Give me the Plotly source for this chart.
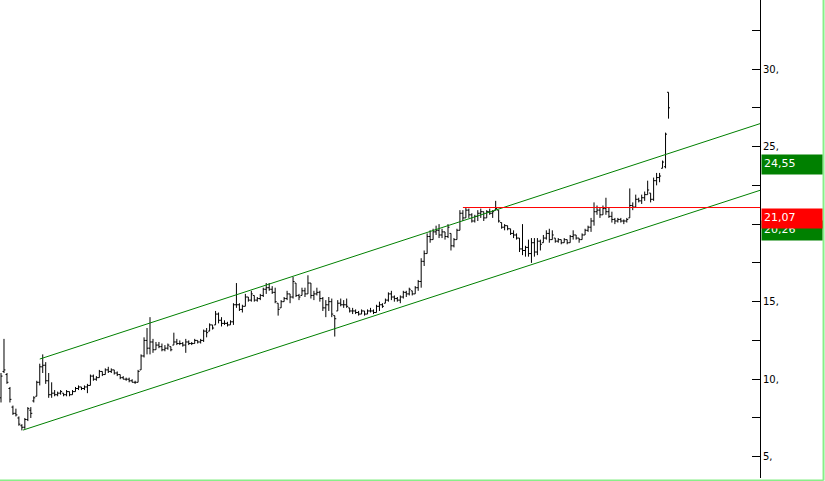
import plotly.graph_objects as go

# weekly bars (price units)
HIGH = [10.4, 12.6, 10.4, 9.5, 8.3, 8.1, 7.6, 7.1, 7.5, 8.2, 8.2, 8.9, 9.9, 11.0, 11.6, 11.1, 10.4, 9.8, 9.3, 9.2,
        9.3, 9.1, 9.3, 9.2, 9.3, 9.5, 9.6, 9.5, 9.6, 9.7, 10.3, 10.3, 10.2, 10.6, 10.5, 10.7, 10.8, 10.7, 10.6, 10.5,
        10.3, 10.2, 10.1, 10.1, 10.0, 9.9, 10.6, 11.6, 12.7, 13.3, 14.0, 12.6, 12.4, 12.4, 12.3, 12.2, 12.3, 12.1, 13.0, 12.6,
        12.5, 12.4, 12.6, 12.5, 12.4, 12.6, 12.5, 12.6, 13.2, 13.3, 13.6, 13.5, 14.4, 14.3, 14.0, 13.8, 13.7, 13.8, 14.9, 16.2,
        14.9, 14.8, 15.5, 15.3, 15.7, 15.4, 15.3, 15.5, 15.9, 16.2, 16.2, 16.0, 15.9, 14.9, 15.1, 15.3, 15.7, 15.5, 16.6, 16.2,
        15.5, 15.9, 15.9, 16.7, 16.2, 15.7, 15.9, 15.7, 15.3, 15.1, 15.3, 15.2, 14.1, 15.1, 15.2, 15.1, 15.2, 14.6, 14.6, 14.5,
        14.4, 14.5, 14.4, 14.5, 14.6, 14.5, 14.8, 15.0, 14.9, 15.2, 15.6, 15.7, 15.4, 15.3, 15.4, 15.7, 15.7, 15.9, 15.7, 16.0,
        16.4, 17.8, 18.3, 19.4, 19.6, 19.7, 19.9, 20.0, 19.7, 19.5, 20.0, 19.4, 19.1, 19.7, 20.9, 20.9, 21.1, 21.0, 20.7, 20.6,
        20.9, 21.0, 20.8, 20.9, 21.0, 20.9, 21.5, 20.9, 20.1, 20.0, 19.9, 19.7, 19.6, 19.4, 19.1, 20.0, 18.6, 19.0, 19.1, 19.1,
        19.1, 19.0, 19.3, 19.6, 19.7, 19.6, 19.1, 19.1, 19.0, 19.1, 19.0, 19.3, 19.6, 19.3, 19.1, 19.4, 19.7, 19.9, 20.4, 21.4,
        21.2, 21.1, 21.2, 21.7, 21.1, 20.8, 20.4, 20.4, 20.4, 20.3, 20.4, 22.3, 21.4, 21.9, 21.7, 21.9, 22.1, 22.8, 22.0, 23.0,
        23.3, 23.3, 24.1, 25.9, 28.5]
LOW = [8.5, 10.4, 9.7, 8.5, 7.7, 7.6, 7.0, 6.7, 6.8, 7.3, 7.5, 8.5, 8.9, 9.6, 10.4, 9.7, 8.8, 8.8, 8.9, 8.9,
       9.0, 8.9, 8.9, 8.9, 9.0, 9.2, 9.3, 9.3, 9.3, 9.1, 9.6, 9.9, 9.9, 10.1, 10.2, 10.3, 10.4, 10.4, 10.3, 10.2,
       10.0, 10.0, 9.9, 9.8, 9.8, 9.7, 9.8, 10.6, 11.4, 11.6, 11.6, 11.7, 11.9, 12.0, 11.8, 11.8, 11.9, 11.8, 12.2, 12.2,
       12.2, 12.1, 11.7, 12.2, 12.2, 12.3, 12.3, 12.3, 12.4, 12.7, 13.1, 13.2, 13.5, 13.6, 13.4, 13.5, 13.4, 13.5, 13.5, 14.6,
       14.4, 14.3, 14.7, 15.0, 15.0, 15.0, 15.0, 15.1, 15.3, 15.5, 15.7, 15.5, 14.9, 14.1, 14.6, 15.0, 15.1, 14.9, 15.2, 15.3,
       15.1, 15.4, 15.3, 15.5, 15.2, 15.1, 15.4, 15.0, 14.4, 14.0, 14.4, 14.0, 12.75, 14.4, 14.7, 14.6, 14.6, 14.3, 14.2, 14.2,
       14.1, 14.2, 14.1, 14.2, 14.3, 14.2, 14.3, 14.4, 14.6, 14.9, 15.0, 15.1, 15.0, 15.0, 14.9, 15.2, 15.3, 15.4, 15.4, 15.5,
       15.7, 15.9, 17.3, 18.1, 18.8, 19.0, 19.3, 19.1, 19.1, 19.0, 19.1, 18.3, 18.5, 19.0, 19.6, 20.2, 20.4, 20.4, 20.1, 20.1,
       20.2, 20.4, 20.2, 20.4, 20.6, 20.4, 20.9, 20.1, 19.7, 19.6, 19.6, 19.3, 19.1, 19.0, 18.2, 18.0, 17.9, 17.9, 17.5, 17.9,
       18.0, 18.3, 18.8, 19.0, 18.8, 19.0, 18.8, 18.8, 18.7, 18.8, 18.7, 18.8, 19.0, 19.0, 18.8, 19.0, 19.3, 19.5, 19.5, 19.9,
       20.6, 20.4, 20.6, 20.6, 20.4, 20.1, 20.0, 20.1, 20.1, 20.0, 20.1, 20.4, 20.9, 21.1, 21.4, 21.3, 21.5, 21.9, 21.4, 21.5,
       22.5, 22.7, 23.6, 23.6, 26.8]
OPEN = [8.8, 10.5, 10.3, 9.4, 8.2, 7.8, 7.5, 7.0, 6.9, 7.4, 8.0, 8.6, 8.9, 9.8, 10.8, 10.9, 9.9, 9.0, 9.1, 9.0,
        9.1, 9.1, 9.0, 9.2, 9.0, 9.2, 9.4, 9.5, 9.4, 9.5, 9.6, 10.2, 10.0, 10.1, 10.5, 10.3, 10.6, 10.5, 10.6, 10.4,
        10.3, 10.1, 10.0, 10.0, 9.9, 9.8, 9.8, 10.6, 11.5, 12.5, 12.0, 12.4, 11.9, 12.2, 12.1, 11.9, 12.0, 12.1, 12.2, 12.4,
        12.3, 12.3, 12.2, 12.4, 12.3, 12.3, 12.5, 12.4, 12.5, 13.1, 13.1, 13.5, 13.5, 14.2, 13.8, 13.6, 13.6, 13.5, 13.7, 14.8,
        14.8, 14.5, 14.7, 15.3, 15.1, 15.4, 15.1, 15.2, 15.4, 15.8, 15.9, 15.8, 15.6, 14.9, 14.6, 15.0, 15.2, 15.5, 15.3, 16.2,
        15.4, 15.4, 15.7, 15.5, 16.2, 15.4, 15.5, 15.6, 15.2, 14.6, 14.8, 15.0, 14.1, 14.4, 14.9, 14.8, 14.8, 14.6, 14.4, 14.4,
        14.3, 14.2, 14.4, 14.2, 14.4, 14.4, 14.3, 14.7, 14.8, 14.9, 15.1, 15.5, 15.3, 15.2, 15.1, 15.3, 15.6, 15.5, 15.7, 15.5,
        15.9, 16.3, 17.6, 18.1, 19.2, 19.0, 19.5, 19.6, 19.3, 19.5, 19.2, 19.4, 18.6, 19.0, 19.6, 20.7, 20.4, 20.9, 20.6, 20.2,
        20.5, 20.7, 20.8, 20.4, 20.8, 20.7, 20.9, 20.9, 20.1, 19.8, 19.9, 19.7, 19.4, 19.3, 19.1, 18.4, 18.3, 18.5, 18.1, 18.8,
        18.2, 18.9, 18.8, 19.1, 19.4, 19.0, 19.1, 18.9, 19.0, 18.8, 19.0, 18.8, 19.2, 19.3, 19.1, 19.0, 19.3, 19.6, 19.8, 20.2,
        20.8, 20.9, 20.6, 21.0, 20.8, 20.5, 20.3, 20.2, 20.3, 20.2, 20.2, 20.4, 21.2, 21.1, 21.6, 21.5, 21.7, 21.9, 22.0, 21.6,
        22.8, 23.0, 23.6, 23.7, 28.5]
CLOSE = [10.2, 10.6, 9.8, 8.7, 7.8, 7.7, 7.1, 6.9, 7.4, 8.1, 7.8, 8.8, 9.8, 10.8, 10.9, 9.9, 9.0, 9.1, 9.0, 9.1,
         9.2, 9.0, 9.2, 9.0, 9.2, 9.4, 9.5, 9.4, 9.5, 9.6, 10.2, 10.0, 10.1, 10.5, 10.3, 10.6, 10.5, 10.6, 10.4, 10.3,
         10.1, 10.0, 10.0, 9.9, 9.8, 9.8, 10.5, 11.5, 12.5, 12.0, 12.4, 11.9, 12.2, 12.1, 11.9, 12.0, 12.2, 11.9, 12.4, 12.3,
         12.3, 12.2, 12.4, 12.3, 12.3, 12.5, 12.4, 12.5, 13.1, 13.0, 13.5, 13.3, 14.2, 13.8, 13.6, 13.6, 13.5, 13.7, 14.8, 14.8,
         14.5, 14.7, 15.3, 15.1, 15.5, 15.1, 15.2, 15.4, 15.8, 15.9, 15.8, 15.6, 15.0, 14.5, 15.0, 15.2, 15.5, 15.3, 16.3, 15.4,
         15.3, 15.7, 15.5, 16.2, 15.4, 15.5, 15.6, 15.2, 14.6, 14.8, 15.0, 14.2, 13.9, 14.9, 14.8, 14.8, 14.7, 14.4, 14.4, 14.3,
         14.2, 14.4, 14.2, 14.4, 14.4, 14.3, 14.7, 14.8, 14.7, 15.1, 15.5, 15.3, 15.2, 15.1, 15.3, 15.6, 15.5, 15.8, 15.5, 15.9,
         16.3, 17.6, 18.1, 19.2, 19.0, 19.5, 19.6, 19.3, 19.5, 19.2, 19.8, 18.6, 19.0, 19.6, 20.7, 20.4, 20.9, 20.6, 20.2, 20.5,
         20.7, 20.8, 20.4, 20.8, 20.7, 20.8, 21.0, 20.2, 19.8, 19.9, 19.7, 19.4, 19.3, 19.1, 18.4, 18.3, 18.5, 18.1, 18.8, 18.2,
         18.9, 18.7, 19.1, 19.4, 19.0, 19.3, 18.9, 19.0, 18.8, 19.0, 18.8, 19.2, 19.3, 19.1, 19.0, 19.3, 19.6, 19.8, 20.2, 20.8,
         20.9, 20.6, 21.0, 20.8, 20.5, 20.3, 20.2, 20.3, 20.2, 20.2, 20.3, 21.2, 21.1, 21.6, 21.5, 21.7, 21.9, 22.2, 21.6, 22.8,
         23.0, 23.1, 24.0, 25.8, 27.5]

# trend channel anchors (bar index, price) and the horizontal level
UPPER_X, UPPER_Y = [13, 224], [11.30, 24.55]
LOWER_X, LOWER_Y = [7.4, 224], [6.72, 20.26]
LEVEL_START, LEVEL = 155, 21.07

Y_TICKS = [5, 10, 15, 20, 25, 30]
Y_TEXT = ["5,", "10,", "15,", "20,", "25,", "30,"]

GREEN = "#008000"
RED = "#ff0000"
BORDER = "#88ee88"

X = list(range(len(HIGH)))
X_MIN, X_MAX = -0.34, 254.7
Y_MIN, Y_MAX = 3.63, 34.45


def extend(xs, ys, x_end):
    slope = (ys[1] - ys[0]) / (xs[1] - xs[0])
    return [xs[0], x_end], [ys[0], ys[0] + slope * (x_end - xs[0])]


fig = go.Figure()
fig.add_trace(go.Ohlc(
    x=X, open=OPEN, high=HIGH, low=LOW, close=CLOSE,
    increasing_line_color="black", decreasing_line_color="black",
    line_width=1, tickwidth=0.5, showlegend=False, hoverinfo="skip",
))
for xs, ys in [(UPPER_X, UPPER_Y), (LOWER_X, LOWER_Y)]:
    lx, ly = extend(xs, ys, X_MAX + 2)
    fig.add_trace(go.Scatter(x=lx, y=ly, mode="lines", line=dict(color=GREEN, width=1),
                             showlegend=False, hoverinfo="skip"))
fig.add_trace(go.Scatter(x=[LEVEL_START, X_MAX + 2], y=[LEVEL, LEVEL], mode="lines",
                         line=dict(color=RED, width=1), showlegend=False, hoverinfo="skip"))

# price tags on the axis (the red one sits on top of the lower green one)
tags = [(UPPER_Y[1], GREEN), (LOWER_Y[1], GREEN), (LEVEL, RED)]
for val, col in tags:
    fig.add_annotation(
        x=1, xref="paper", xanchor="left", xshift=1,
        y=val, yref="y", yanchor="top",
        text=f"{val:.2f}".replace(".", ","), showarrow=False,
        bgcolor=col, width=56, height=15, borderpad=2, align="left", valign="top",
        font=dict(color="white", family="DejaVu Sans", size=11),
    )

# light green frame (right and bottom)
fig.add_shape(type="line", xref="paper", yref="paper", x0=0, x1=1.0836, y0=-0.0052, y1=-0.0052,
              line=dict(color=BORDER, width=2))
fig.add_shape(type="line", xref="paper", yref="paper", x0=1.0836, x1=1.0836, y0=-0.0052, y1=1.01,
              line=dict(color=BORDER, width=2))

fig.update_layout(
    width=825, height=481, margin=dict(l=0, r=65, t=0, b=3),
    paper_bgcolor="white", plot_bgcolor="white",
    font=dict(family="DejaVu Sans", size=10, color="black"),
    xaxis=dict(range=[X_MIN, X_MAX], visible=False, rangeslider_visible=False, fixedrange=True),
    yaxis=dict(
        side="right", range=[Y_MIN, Y_MAX], showgrid=False, zeroline=False,
        showline=True, linecolor="black", linewidth=1,
        tickmode="array", tickvals=Y_TICKS, ticktext=Y_TEXT,
        ticks="inside", ticklen=8, tickcolor="black", tickwidth=1,
        minor=dict(tickmode="array", tickvals=[7.5, 12.5, 17.5, 22.5, 27.5, 32.5],
                   ticks="inside", ticklen=8, tickcolor="black", tickwidth=1),
        tickfont=dict(family="DejaVu Sans", size=10, color="black"),
    ),
)

# drop the browser's default page margin so the chart sits at the window's corner
fig.write_html("out.html", config={"displayModeBar": False},
               post_script="document.body.style.margin='0';")
